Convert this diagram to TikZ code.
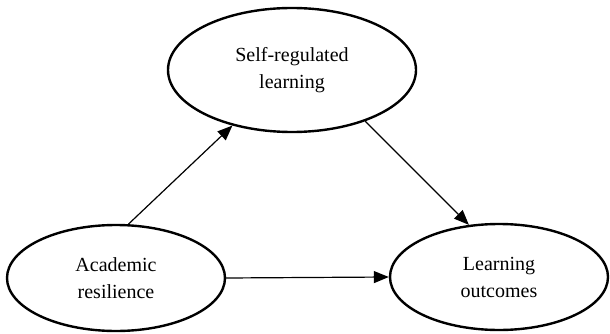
\documentclass[tikz,border=0pt]{standalone}
\usepackage{fontspec}
\setmainfont{Liberation Serif}
\usetikzlibrary{shapes.geometric,arrows.meta}

\tikzstyle{construct}=[draw, ellipse, line width=2.4pt, inner sep=0pt, align=center, font=\fontsize{20}{27}\selectfont, execute at begin node={\rule{0pt}{20pt}}]
\tikzstyle{link}=[line width=1.2pt, -{Triangle[length=15pt,width=12pt]}]

\begin{document}
\begin{tikzpicture}[x=1pt,y=-1pt]
\useasboundingbox (0,0) rectangle (610,334);

\node[construct, minimum width=248pt, minimum height=124pt] (srl) at (292,70) {Self-regulated\\learning};
\node[construct, minimum width=218pt, minimum height=106pt] (ar) at (116,278) {Academic\\resilience};
\node[construct, minimum width=218pt, minimum height=106pt] (lo) at (499,277) {Learning\\outcomes};

\draw[link] (ar.77) -- (srl.223);
\draw[link] (srl.325) -- (lo.120);
\draw[link] (ar.east) -- (lo.west);

\end{tikzpicture}
\end{document}
